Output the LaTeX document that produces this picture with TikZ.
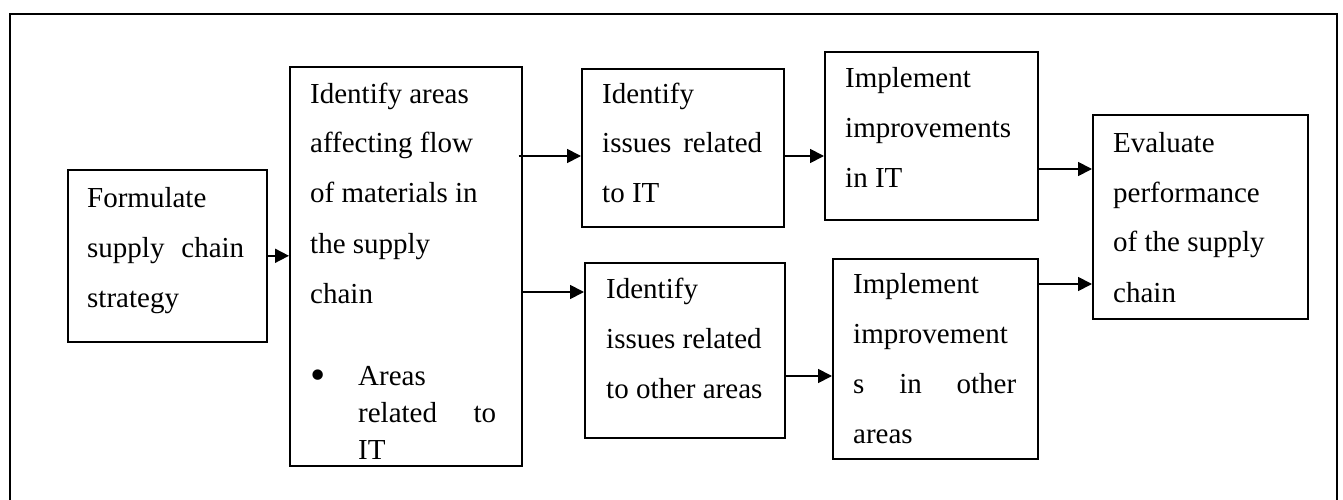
\documentclass[tikz,border=0pt]{standalone}
\usepackage{fontspec}
\setmainfont{Liberation Serif}
\usetikzlibrary{arrows.meta,calc}
% a line stretched to a given width (justified line)
\newcommand\spreadline[2]{\makebox[#1][s]{#2}}
\begin{document}
\begin{tikzpicture}[x=1pt,y=-1pt,
  stepbox/.style={draw,line width=1.6pt,inner sep=0pt,anchor=north west},
  boxtext/.style={anchor=base west,inner sep=0pt,font=\fontsize{29}{50}\selectfont},
  link/.style={line width=1.8pt,-{Triangle[length=14pt,width=14pt]}}
]
\useasboundingbox (0,0) rectangle (1343,500);

% outer frame, open at the bottom
\draw[line width=2pt] (10,500) -- (10,14) -- (1337,14) -- (1337,500);

% boxes
\node[stepbox,minimum width=199pt,minimum height=172pt] (b1) at (67,169) {};
\node[stepbox,minimum width=232pt,minimum height=399pt] (b2) at (289,66) {};
\node[stepbox,minimum width=202pt,minimum height=158pt] (b3) at (581,68) {};
\node[stepbox,minimum width=200pt,minimum height=175pt] (b4) at (584,262) {};
\node[stepbox,minimum width=213pt,minimum height=168pt] (b5) at (824,51) {};
\node[stepbox,minimum width=205pt,minimum height=200pt] (b6) at (832,258) {};
\node[stepbox,minimum width=215pt,minimum height=204pt] (b7) at (1092,114) {};

% box texts
\node[boxtext] (t1) at (87,207) {\parbox[t]{157pt}{Formulate\\
  \spreadline{157pt}{supply chain}\\strategy}};
\node[boxtext] (t2) at (310,103) {\parbox[t]{186pt}{Identify areas\\
  affecting flow\\of materials in\\the supply\\chain}};
\node[boxtext] (t2b) at (310,385) {\parbox[t]{186pt}{\fontsize{29}{37}\selectfont
  \makebox[48pt][l]{\raisebox{-4pt}{\scalebox{1.5}{\textbullet}}}Areas\\
  \hspace*{48pt}\spreadline{138pt}{related to}\\
  \hspace*{48pt}IT}};
\node[boxtext] (t3) at (602,103) {\parbox[t]{160pt}{Identify\\
  \spreadline{160pt}{issues related}\\to IT}};
\node[boxtext] (t4) at (606,298) {\parbox[t]{160pt}{Identify\\
  issues related\\to other areas}};
\node[boxtext] (t5) at (845,88) {\parbox[t]{175pt}{Implement\\
  improvements\\in IT}};
\node[boxtext] (t6) at (853,293) {\parbox[t]{163pt}{Implement\\
  improvement\\\spreadline{163pt}{s in other}\\areas}};
\node[boxtext] (t7) at (1113,152) {\parbox[t]{180pt}{Evaluate\\
  performance\\of the supply\\chain}};

% connector heights
\coordinate (ya) at (0,156);
\coordinate (yb) at (0,292);
\coordinate (yc) at (0,376);
\coordinate (yd) at (0,169);
\coordinate (ye) at (0,284);

% connectors
\draw[link] (b1.east) -- (b1.east -| b2.west);
\draw[link] ($(b2.east |- ya)+(-4,0)$) -- (b3.west |- ya);
\draw[link] (b2.east |- yb) -- (b4.west |- yb);
\draw[link] (b3.east |- ya) -- (b5.west |- ya);
\draw[link] (b4.east |- yc) -- (b6.west |- yc);
\draw[link] (b5.east |- yd) -- (b7.west |- yd);
\draw[link] (b6.east |- ye) -- (b7.west |- ye);
\end{tikzpicture}
\end{document}
